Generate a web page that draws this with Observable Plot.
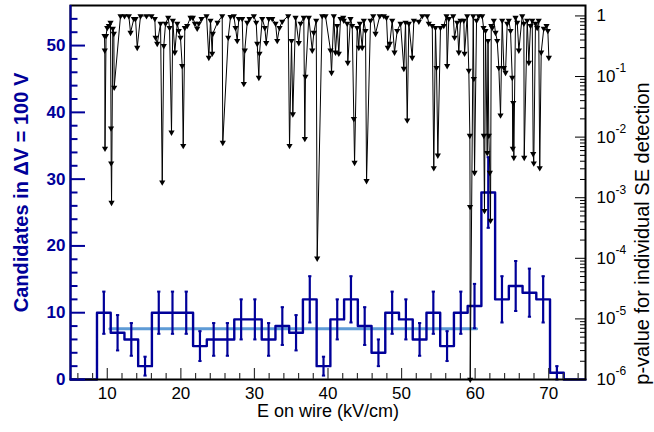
<!DOCTYPE html>
<html><head><meta charset="utf-8">
<script src="https://cdn.jsdelivr.net/npm/d3@7"></script>
<script src="https://cdn.jsdelivr.net/npm/@observablehq/plot@0.6"></script>
<style>body{margin:0;background:#fff}svg{font-family:"Liberation Sans",Arial,Helvetica,sans-serif}</style>
</head><body><div id="chart"></div>
<script>
// ---- data ----
const binStart = 8.6;          // kV/cm, left edge of first bin
const binWidth = 1.866;        // kV/cm per bin (ΔV = 100 V)
const counts = [10,7,6,2,10,10,10,5,6,6,9,9,6,8,7,12,2,9,12,8,4,10,9,6,10,5,10,11,28,12,14,13,12,1];
const fitLevel = 7.6, fitFrom = 10.35, fitTo = 60.2;

const pE = [9.62,9.66,9.69,9.83,9.99,10.21,10.44,10.51,10.53,10.58,10.75,10.89,10.94,11.80,12.34,12.93,13.16,13.61,13.84,14.07,
14.52,15.33,16.01,16.46,16.56,16.79,17.24,17.47,17.68,17.92,18.28,18.46,18.73,18.91,19.18,19.51,19.72,19.95,20.18,20.32,
20.54,20.86,21.31,21.63,21.90,22.22,22.44,22.81,23.49,23.80,24.03,24.26,24.34,24.98,25.62,25.70,26.44,26.75,27.20,27.43,
27.66,27.88,28.34,28.56,28.69,29.02,29.33,29.92,30.24,30.38,30.60,30.69,31.06,31.41,31.60,31.96,32.42,32.87,33.10,33.41,
33.78,34.59,34.77,35.04,35.22,35.59,36.03,36.27,36.71,36.85,36.94,37.39,37.86,38.07,38.40,38.53,39.21,39.66,40.34,40.48,
40.79,41.02,41.25,41.47,41.70,42.07,42.15,42.61,42.69,43.06,43.29,43.51,43.61,43.97,44.19,44.33,44.65,44.87,45.10,45.24,
45.78,46.15,46.46,47.04,47.59,47.95,48.13,48.40,48.73,49.04,49.41,49.86,50.31,50.54,50.77,50.99,51.45,51.67,52.35,52.81,
53.49,53.70,54.17,54.38,54.61,54.75,54.93,55.29,55.74,56.11,56.20,56.42,57.02,57.20,57.56,57.78,58.01,58.46,58.56,58.92,
59.14,59.28,59.31,59.33,59.74,59.82,59.92,60.19,60.50,60.96,61.14,61.18,61.27,61.41,61.64,61.75,61.86,62.00,62.09,62.19,
62.32,62.54,62.77,63.00,63.22,63.45,63.68,63.90,64.13,64.36,64.58,64.81,65.04,65.12,65.18,65.26,65.49,65.72,65.94,66.40,
66.62,66.67,67.08,67.30,67.53,67.76,67.89,67.97,68.20,68.43,68.64,68.78,68.98,69.33,69.70,69.88,70.02];
const pValue = [0.47,0.27,0.0065,0.47,0.64,0.69,0.78,0.014,0.0037,0.00083,0.62,0.51,0.066,1,1,1,0.53,0.90,0.90,0.30,
1,1,1,0.90,0.44,0.35,0.75,0.0018,0.32,0.75,0.94,0.64,0.012,0.84,0.25,0.75,0.57,0.44,0.15,0.0072,
0.64,0.69,0.94,0.94,0.75,0.62,0.75,0.90,1,0.205,0.84,0.24,0.51,0.78,1,0.0081,0.44,0.97,1,0.64,
0.39,0.90,0.90,0.076,0.27,0.78,0.90,1,0.78,0.35,0.096,0.24,0.90,0.64,0.36,0.90,0.90,0.75,0.39,0.64,
0.81,1,0.0072,0.39,0.024,0.94,0.36,0.75,0.94,0.0094,0.10,0.94,0.27,0.53,0.84,0.0001,1,1,0.27,0.116,
1,0.25,0.69,0.24,0.90,0.94,0.84,0.75,0.17,0.90,0.69,0.020,0.0038,0.64,0.30,0.75,0.30,0.84,0.57,0.0019,
0.84,1,0.51,1,1,0.94,0.30,0.35,0.84,0.25,0.57,0.75,0.135,0.78,0.019,0.75,0.205,0.84,0.81,1,
1,0.75,0.69,0.0031,0.64,0.14,0.0050,0.64,0.69,1,0.15,0.90,1,0.44,0.78,0.25,0.84,0.84,0.24,1,
0.125,0.0106,0.00071,0.000001,1,0.092,0.0026,0.84,1,1,0.64,0.0106,0.00061,0.57,0.0055,0.39,0.0106,0.0026,0.00042,0.69,
0.64,0.84,0.53,0.39,0.14,0.023,0.84,0.14,0.116,0.75,0.84,0.57,0.096,0.0065,0.037,0.0046,0.94,0.78,0.27,1,
0.75,0.0046,0.84,0.17,0.69,0.84,0.0053,0.0037,0.75,0.64,0.84,0.0031,0.25,0.62,0.69,0.57,0.205];

const xTicks = [10,20,30,40,50,60,70];
const yTicks = [0,10,20,30,40,50];
const pTickExp = [0,-1,-2,-3,-4,-5,-6];

// ---- layout / style ----
const W = 654, H = 432, mL = 70, mR = 69, mT = 5, mB = 53;
const FW = W - mL - mR, FH = H - mT - mB;
const XMIN = 5, XMAX = 75, YMAX = 56;
const LOGMIN = -6, LOGMAX = 0.172;
const toY = p => (Math.log10(p) - LOGMIN) / (LOGMAX - LOGMIN) * YMAX;
const BLUE = "#000099", FITBLUE = "#5e9bd6";

const bins = counts.map((n, i) => ({x0: binStart + i * binWidth, x1: binStart + (i + 1) * binWidth, n}));
const stepPts = [{x: XMIN, y: 0}, ...bins.map(b => ({x: b.x0, y: b.n})),
  {x: bins[bins.length - 1].x1, y: 0}, {x: XMAX, y: 0}];
const errs = bins.filter(b => b.n > 0).map(b => ({c: (b.x0 + b.x1) / 2, lo: b.n - Math.sqrt(b.n), hi: b.n + Math.sqrt(b.n)}));
const pts = pE.map((e, i) => ({e, y: toY(pValue[i])}));

const xMinor = d3.range(6, 75, 2).filter(v => v % 10 !== 0);
const yMinor = d3.range(2, 56, 2).filter(v => v % 10 !== 0);
const pMinor = [];
for (let e = -6; e < 0; e++) for (let k = 2; k <= 9; k++) pMinor.push(k * 10 ** e);

const font = 17;
const chart = Plot.plot({
  width: W, height: H,
  marginLeft: mL, marginRight: mR, marginTop: mT, marginBottom: mB,
  x: {domain: [XMIN, XMAX], axis: null},
  y: {domain: [0, YMAX], axis: null},
  style: {fontFamily: '"Liberation Sans",Arial,sans-serif', background: "white"},
  marks: [
    Plot.line([{x: fitFrom, y: fitLevel}, {x: fitTo, y: fitLevel}], {x: "x", y: "y", stroke: FITBLUE, strokeWidth: 3}),
    Plot.line(stepPts, {x: "x", y: "y", curve: "step-after", stroke: BLUE, strokeWidth: 2.4}),
    Plot.ruleX(errs, {x: "c", y1: "lo", y2: "hi", stroke: BLUE, strokeWidth: 2.2}),
    Plot.link(errs, {x1: d => d.c - 0.22, x2: d => d.c + 0.22, y1: "lo", y2: "lo", stroke: BLUE, strokeWidth: 2}),
    Plot.link(errs, {x1: d => d.c - 0.22, x2: d => d.c + 0.22, y1: "hi", y2: "hi", stroke: BLUE, strokeWidth: 2}),
    Plot.line(pts, {x: "e", y: "y", stroke: "black", strokeWidth: 1}),
    Plot.dot(pts, {x: "e", y: "y", symbol: "triangle", rotate: 180, r: 2.3, fill: "black", stroke: "none"}),
    // frame & axes
    Plot.frame({stroke: "black", strokeWidth: 2}),
    Plot.ruleX([XMIN], {stroke: BLUE, strokeWidth: 2}),
    Plot.tickY(yTicks, {y: d => d, stroke: BLUE, strokeWidth: 2, insetRight: FW - 15}),
    Plot.tickY(yMinor, {y: d => d, stroke: BLUE, strokeWidth: 2, insetRight: FW - 7.5}),
    Plot.tickX(xTicks, {x: d => d, stroke: "#333", strokeWidth: 1.2, insetTop: FH - 11}),
    Plot.tickX(xMinor, {x: d => d, stroke: "#333", strokeWidth: 1.2, insetTop: FH - 6}),
    Plot.tickY(pTickExp, {y: e => toY(10 ** e), stroke: "black", strokeWidth: 1, insetLeft: FW - 10}),
    Plot.tickY(pMinor, {y: p => toY(p), stroke: "black", strokeWidth: 1, insetLeft: FW - 5}),
    // tick labels
    Plot.text(yTicks, {y: d => d, text: d => String(d), frameAnchor: "left", dx: -5, textAnchor: "end", lineAnchor: "middle", fill: BLUE, fontWeight: "bold", fontSize: font}),
    Plot.text(xTicks, {x: d => d, text: d => String(d), frameAnchor: "bottom", dy: 14, textAnchor: "middle", lineAnchor: "middle", fill: "black", fontSize: font}),
    Plot.text(pTickExp, {y: e => toY(10 ** e), text: e => e === 0 ? "1" : "10", frameAnchor: "right", dx: 11, textAnchor: "start", lineAnchor: "middle", fill: "black", fontSize: font}),
    Plot.text(pTickExp.filter(e => e !== 0), {y: e => toY(10 ** e), text: e => String(e), frameAnchor: "right", dx: 30, dy: -8, textAnchor: "start", lineAnchor: "middle", fill: "black", fontSize: 12}),
    // titles
    Plot.text(["E on wire (kV/cm)"], {frameAnchor: "bottom", dy: 32, textAnchor: "middle", lineAnchor: "middle", fontSize: 18, fill: "black"}),
    Plot.text(["Candidates in \u0394V = 100 V"], {frameAnchor: "left", dx: -49, rotate: -90, textAnchor: "middle", lineAnchor: "middle", fontSize: 20, fontWeight: "bold", fill: BLUE}),
    Plot.text(["p-value for individual SE detection"], {frameAnchor: "right", dx: 57, dy: 41, rotate: -90, textAnchor: "middle", lineAnchor: "middle", fontSize: 20, fill: "black"})
  ]
});
document.getElementById("chart").append(chart);
</script></body></html>
